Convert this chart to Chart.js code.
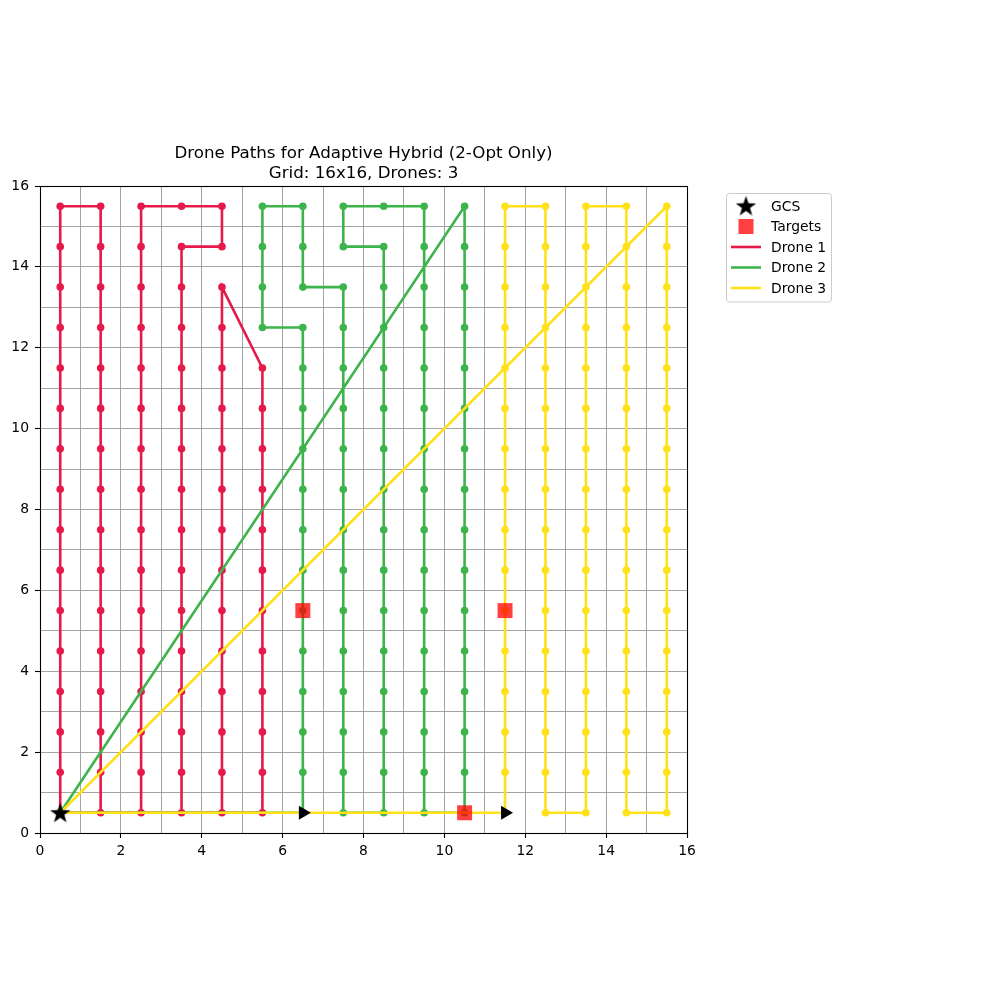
<!DOCTYPE html>
<html><head><meta charset="utf-8">
<script src="https://cdn.jsdelivr.net/npm/chart.js@4.4.1/dist/chart.umd.min.js"></script>
<style>html,body{margin:0;padding:0;background:#fff}canvas{display:block}</style>
</head><body>
<canvas id="c" width="1000" height="1000"></canvas>
<script>
const titleLines = ['Drone Paths for Adaptive Hybrid (2-Opt Only)', 'Grid: 16x16, Drones: 3'];
const legendLabels = ['GCS', 'Targets', 'Drone 1', 'Drone 2', 'Drone 3'];
const axisMin = 0, axisMax = 16, tickStep = 1, labelEvery = 2;
const droneColors = ['#e6194B', '#3cb44b', '#ffe119'];

const gcs = [[0.5, 0.5]];
const targets = [[6.5, 5.5], [11.5, 5.5], [10.5, 0.5]];
const endMarkers = [[6.5, 0.5], [11.5, 0.5]];

const drone1 = [
 [0.5,0.5],[0.5,1.5],[0.5,2.5],[0.5,3.5],[0.5,4.5],[0.5,5.5],[0.5,6.5],[0.5,7.5],[0.5,8.5],[0.5,9.5],[0.5,10.5],[0.5,11.5],[0.5,12.5],[0.5,13.5],[0.5,14.5],[0.5,15.5],
 [1.5,15.5],[1.5,14.5],[1.5,13.5],[1.5,12.5],[1.5,11.5],[1.5,10.5],[1.5,9.5],[1.5,8.5],[1.5,7.5],[1.5,6.5],[1.5,5.5],[1.5,4.5],[1.5,3.5],[1.5,2.5],[1.5,1.5],[1.5,0.5],
 [2.5,0.5],[2.5,1.5],[2.5,2.5],[2.5,3.5],[2.5,4.5],[2.5,5.5],[2.5,6.5],[2.5,7.5],[2.5,8.5],[2.5,9.5],[2.5,10.5],[2.5,11.5],[2.5,12.5],[2.5,13.5],[2.5,14.5],[2.5,15.5],
 [3.5,15.5],[4.5,15.5],[4.5,14.5],[3.5,14.5],
 [3.5,13.5],[3.5,12.5],[3.5,11.5],[3.5,10.5],[3.5,9.5],[3.5,8.5],[3.5,7.5],[3.5,6.5],[3.5,5.5],[3.5,4.5],[3.5,3.5],[3.5,2.5],[3.5,1.5],[3.5,0.5],
 [4.5,0.5],[4.5,1.5],[4.5,2.5],[4.5,3.5],[4.5,4.5],[4.5,5.5],[4.5,6.5],[4.5,7.5],[4.5,8.5],[4.5,9.5],[4.5,10.5],[4.5,11.5],[4.5,12.5],[4.5,13.5],
 [5.5,11.5],[5.5,10.5],[5.5,9.5],[5.5,8.5],[5.5,7.5],[5.5,6.5],[5.5,5.5],[5.5,4.5],[5.5,3.5],[5.5,2.5],[5.5,1.5],[5.5,0.5],
 [0.5,0.5]
];

const drone2 = [
 [0.5,0.5],
 [10.5,15.5],[10.5,14.5],[10.5,13.5],[10.5,12.5],[10.5,11.5],[10.5,10.5],[10.5,9.5],[10.5,8.5],[10.5,7.5],[10.5,6.5],[10.5,5.5],[10.5,4.5],[10.5,3.5],[10.5,2.5],[10.5,1.5],[10.5,0.5],
 [9.5,0.5],[9.5,1.5],[9.5,2.5],[9.5,3.5],[9.5,4.5],[9.5,5.5],[9.5,6.5],[9.5,7.5],[9.5,8.5],[9.5,9.5],[9.5,10.5],[9.5,11.5],[9.5,12.5],[9.5,13.5],[9.5,14.5],[9.5,15.5],
 [8.5,15.5],[7.5,15.5],[7.5,14.5],[8.5,14.5],
 [8.5,13.5],[8.5,12.5],[8.5,11.5],[8.5,10.5],[8.5,9.5],[8.5,8.5],[8.5,7.5],[8.5,6.5],[8.5,5.5],[8.5,4.5],[8.5,3.5],[8.5,2.5],[8.5,1.5],[8.5,0.5],
 [7.5,0.5],[7.5,1.5],[7.5,2.5],[7.5,3.5],[7.5,4.5],[7.5,5.5],[7.5,6.5],[7.5,7.5],[7.5,8.5],[7.5,9.5],[7.5,10.5],[7.5,11.5],[7.5,12.5],[7.5,13.5],
 [6.5,13.5],[6.5,14.5],[6.5,15.5],
 [5.5,15.5],[5.5,14.5],[5.5,13.5],[5.5,12.5],
 [6.5,12.5],[6.5,11.5],[6.5,10.5],[6.5,9.5],[6.5,8.5],[6.5,7.5],[6.5,6.5],[6.5,5.5],[6.5,4.5],[6.5,3.5],[6.5,2.5],[6.5,1.5],[6.5,0.5],
 [0.5,0.5]
];

const drone3 = [
 [0.5,0.5],
 [15.5,15.5],[15.5,14.5],[15.5,13.5],[15.5,12.5],[15.5,11.5],[15.5,10.5],[15.5,9.5],[15.5,8.5],[15.5,7.5],[15.5,6.5],[15.5,5.5],[15.5,4.5],[15.5,3.5],[15.5,2.5],[15.5,1.5],[15.5,0.5],
 [14.5,0.5],[14.5,1.5],[14.5,2.5],[14.5,3.5],[14.5,4.5],[14.5,5.5],[14.5,6.5],[14.5,7.5],[14.5,8.5],[14.5,9.5],[14.5,10.5],[14.5,11.5],[14.5,12.5],[14.5,13.5],[14.5,14.5],[14.5,15.5],
 [13.5,15.5],[13.5,14.5],[13.5,13.5],[13.5,12.5],[13.5,11.5],[13.5,10.5],[13.5,9.5],[13.5,8.5],[13.5,7.5],[13.5,6.5],[13.5,5.5],[13.5,4.5],[13.5,3.5],[13.5,2.5],[13.5,1.5],[13.5,0.5],
 [12.5,0.5],[12.5,1.5],[12.5,2.5],[12.5,3.5],[12.5,4.5],[12.5,5.5],[12.5,6.5],[12.5,7.5],[12.5,8.5],[12.5,9.5],[12.5,10.5],[12.5,11.5],[12.5,12.5],[12.5,13.5],[12.5,14.5],[12.5,15.5],
 [11.5,15.5],[11.5,14.5],[11.5,13.5],[11.5,12.5],[11.5,11.5],[11.5,10.5],[11.5,9.5],[11.5,8.5],[11.5,7.5],[11.5,6.5],[11.5,5.5],[11.5,4.5],[11.5,3.5],[11.5,2.5],[11.5,1.5],[11.5,0.5],
 [0.5,0.5]
];

const toXY = arr => arr.map(p => ({x: p[0], y: p[1]}));
const FONT = 'DejaVu Sans, Liberation Sans, sans-serif';

function makeStar(size) {
  const c = document.createElement('canvas');
  c.width = size; c.height = size;
  const g = c.getContext('2d');
  const cx = size / 2, cy = size / 2 + 0.8;
  const R = size / 2 - 0.8, r = R * 0.4;
  g.beginPath();
  for (let i = 0; i < 10; i++) {
    const a = -Math.PI / 2 + i * Math.PI / 5;
    const rad = i % 2 ? r : R;
    g.lineTo(cx + rad * Math.cos(a), cy + rad * Math.sin(a));
  }
  g.closePath();
  g.fillStyle = '#000';
  g.fill();
  return c;
}
const starImg = makeStar(23);

function droneDataset(label, arr, color, order) {
  return {
    label, data: toXY(arr), showLine: true,
    borderColor: color, backgroundColor: color, borderWidth: 2.6,
    pointRadius: 3.8, pointHoverRadius: 3.8, pointBorderWidth: 0,
    pointBackgroundColor: color, tension: 0, order
  };
}

const framePlugin = {
  id: 'frame',
  afterDraw(chart) {
    const ctx = chart.ctx, a = chart.chartArea;
    ctx.save();
    // axes frame
    ctx.strokeStyle = '#000'; ctx.lineWidth = 1.1;
    ctx.strokeRect(Math.round(a.left) + 0.5, Math.round(a.top) + 0.5, Math.round(a.right - a.left), Math.round(a.bottom - a.top));
    // title
    ctx.fillStyle = '#000';
    ctx.font = '16.7px ' + FONT;
    ctx.textAlign = 'center'; ctx.textBaseline = 'alphabetic';
    const cx = (a.left + a.right) / 2;
    ctx.fillText(titleLines[0], cx, 158);
    ctx.fillText(titleLines[1], cx, 178);
    // legend
    const lx = 726.5, ly = 193.5, lw = 105, lh = 108.5;
    ctx.beginPath();
    if (ctx.roundRect) ctx.roundRect(lx, ly, lw, lh, 3); else ctx.rect(lx, ly, lw, lh);
    ctx.fillStyle = 'rgba(255,255,255,0.8)'; ctx.fill();
    ctx.strokeStyle = '#cccccc'; ctx.lineWidth = 1; ctx.stroke();
    const rows = [206, 226.5, 247, 267.5, 288];
    const hx0 = 731, hx1 = 761, hc = 746, tx = 771;
    ctx.font = '13.9px ' + FONT;
    ctx.textAlign = 'left'; ctx.textBaseline = 'middle';
    ctx.drawImage(starImg, hc - starImg.width / 2, rows[0] - starImg.height / 2);
    ctx.fillStyle = 'rgba(255,0,0,0.75)';
    ctx.fillRect(hc - 7.5, rows[1] - 7.5, 15, 15);
    for (let i = 0; i < 3; i++) {
      ctx.strokeStyle = droneColors[i]; ctx.lineWidth = 2.6;
      ctx.beginPath(); ctx.moveTo(hx0, rows[i + 2]); ctx.lineTo(hx1, rows[i + 2]); ctx.stroke();
    }
    ctx.fillStyle = '#000';
    legendLabels.forEach((t, i) => ctx.fillText(t, tx, rows[i] + 1));
    ctx.restore();
  }
};

const axisCommon = {
  type: 'linear', min: axisMin, max: axisMax,
  ticks: {
    stepSize: tickStep, autoSkip: false, maxRotation: 0, color: '#000',
    font: {family: FONT, size: 13.9},
    callback: v => (v % labelEvery === 0 ? String(v) : '')
  },
  grid: {
    color: '#9a9a9a', lineWidth: 0.9, tickLength: 5, tickWidth: 1.1,
    tickColor: ctx => (ctx.tick && ctx.tick.value % labelEvery === 0 ? '#000' : 'rgba(0,0,0,0)')
  },
  border: {display: false}
};

new Chart(document.getElementById('c'), {
  type: 'scatter',
  data: {
    datasets: [
      {label: 'GCS', data: toXY(gcs), pointStyle: starImg, pointRadius: 11, pointHoverRadius: 11, order: 0},
      {label: 'end', data: toXY(endMarkers), pointStyle: 'triangle', rotation: 90, pointRadius: 8, pointHoverRadius: 8,
       backgroundColor: '#000', borderColor: '#000', pointBorderWidth: 0, order: 1},
      {label: 'Targets', data: toXY(targets), pointStyle: 'rect', pointRadius: 10.6, pointHoverRadius: 10.6,
       backgroundColor: 'rgba(255,0,0,0.75)', borderColor: 'rgba(255,0,0,0.75)', pointBorderWidth: 0, order: 2},
      droneDataset('Drone 3', drone3, droneColors[2], 3),
      droneDataset('Drone 2', drone2, droneColors[1], 4),
      droneDataset('Drone 1', drone1, droneColors[0], 5)
    ]
  },
  options: {
    responsive: false, animation: false, devicePixelRatio: 1,
    layout: {padding: {left: 0, top: 186, right: 313, bottom: 137}},
    plugins: {legend: {display: false}, tooltip: {enabled: false}, title: {display: false}},
    events: [],
    scales: {
      x: Object.assign({}, axisCommon, {
        position: 'bottom',
        ticks: Object.assign({}, axisCommon.ticks, {padding: 5}),
        afterFit: s => { s.height = 30; }
      }),
      y: Object.assign({}, axisCommon, {
        position: 'left',
        ticks: Object.assign({}, axisCommon.ticks, {padding: 6}),
        afterFit: s => { s.width = 40; }
      })
    }
  },
  plugins: [framePlugin]
});
</script>
</body></html>
